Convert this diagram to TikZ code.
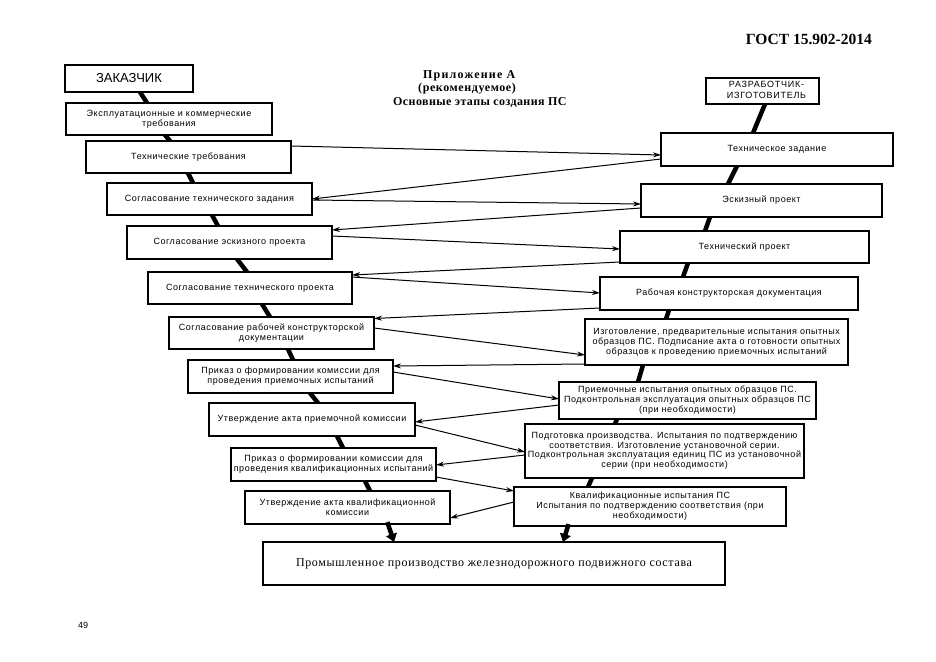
\documentclass[tikz,border=0pt]{standalone}
\usepackage{fontspec}
\setmainfont{Liberation Sans}[LetterSpace=6]
\newfontfamily\plainsans{Liberation Sans}
\newfontfamily\rzfont{Liberation Sans}[LetterSpace=8]
\newfontfamily\serifA{Liberation Serif}[LetterSpace=10]
\newfontfamily\serifB{Liberation Serif}[LetterSpace=5]
\newfontfamily\serifC{Liberation Serif}[LetterSpace=3.5]
\newfontfamily\serifP{Liberation Serif}[LetterSpace=5.5]
\newfontfamily\serifG{Liberation Serif}
\usetikzlibrary{arrows.meta,calc,backgrounds}
\begin{document}
\begin{tikzpicture}[x=1pt,y=-1pt,
  box/.style={draw, line width=1.2pt, fill=white, inner sep=0pt, outer sep=0pt, align=center, font=\fontsize{9}{10}\selectfont},
  chain/.style={line width=4.5pt, shorten <=-2pt, shorten >=-2pt},
  link/.style={line width=1pt, -{Stealth[length=8pt,width=5pt]}},
  bigtip/.style={line width=4.5pt, shorten <=-2pt, -{Triangle[length=8pt,width=11pt]}},
  ttl/.style={inner sep=0pt, anchor=base west}]
\useasboundingbox (0,0) rectangle (936,661);

% header
\node[font=\serifG\bfseries\fontsize{15.5}{17}\selectfont, inner sep=0pt, anchor=base east] (gost) at (872,45) {ГОСТ 15.902-2014};
\node[font=\plainsans\fontsize{9}{10}\selectfont, inner sep=0pt, anchor=base west] (page) at (78,628) {49};
\node[ttl, font=\serifA\bfseries\fontsize{12}{14}\selectfont] (t1) at (423,78) {Приложение А};
\node[ttl, font=\serifB\bfseries\fontsize{12}{14}\selectfont] (t2) at (418,91) {(рекомендуемое)};
\node[ttl, font=\serifC\bfseries\fontsize{12}{14}\selectfont] (t3) at (393,105) {Основные этапы создания ПС};

% left column
\node[box, minimum width=128pt, minimum height=27pt, font=\plainsans\fontsize{13}{14}\selectfont] (L0) at (129,78.5) {ЗАКАЗЧИК};
\node[box, minimum width=206pt, minimum height=32pt] (L1) at (169,119) {Эксплуатационные и коммерческие\\требования};
\node[box, minimum width=205pt, minimum height=32pt] (L2) at (188.5,157) {\raisebox{-1.5pt}{Технические требования}};
\node[box, minimum width=205pt, minimum height=32pt] (L3) at (209.5,199) {\raisebox{2pt}{Согласование технического задания}};
\node[box, minimum width=205pt, minimum height=33pt] (L4) at (229.5,242.5) {\raisebox{3pt}{Согласование эскизного проекта}};
\node[box, minimum width=204pt, minimum height=32pt] (L5) at (250,288) {\raisebox{-2.5pt}{Согласование технического проекта}};
\node[box, minimum width=205pt, minimum height=32pt] (L6) at (271.5,333) {Согласование рабочей конструкторской\\документации};
\node[box, minimum width=205pt, minimum height=33pt] (L7) at (290.5,376.5) {Приказ о формировании комиссии для\\проведения приемочных испытаний};
\node[box, minimum width=206pt, minimum height=33pt] (L8) at (312,419.5) {\raisebox{3pt}{Утверждение акта приемочной комиссии}};
\node[box, minimum width=205pt, minimum height=33pt] (L9) at (333.5,464.5) {Приказ о формировании комиссии для\\проведения квалификационных испытаний};
\node[box, minimum width=205pt, minimum height=33pt] (L10) at (347.5,507.5) {Утверждение акта квалификационной\\комиссии};
\node[box, minimum width=462pt, minimum height=43pt, font=\serifP\fontsize{12}{14}\selectfont] (P) at (494,563.5) {Промышленное производство железнодорожного подвижного состава};

% right column
\node[box, minimum width=113pt, minimum height=26pt, font=\rzfont\fontsize{9}{10.5}\selectfont] (R0) at (762.5,91) {\hspace*{8pt}\raisebox{-2.5pt}{\begin{tabular}{@{}c@{}}РАЗРАБОТЧИК-\\ИЗГОТОВИТЕЛЬ\end{tabular}}};
\node[box, minimum width=232pt, minimum height=33pt] (R1) at (777,149.5) {\raisebox{-1.5pt}{Техническое задание}};
\node[box, minimum width=241pt, minimum height=33pt] (R2) at (761.5,200.5) {Эскизный проект};
\node[box, minimum width=249pt, minimum height=32pt] (R3) at (744.5,247) {\raisebox{-2.5pt}{Технический проект}};
\node[box, minimum width=258pt, minimum height=33pt] (R4) at (729,293.5) {\raisebox{3pt}{Рабочая конструкторская документация}};
\node[box, minimum width=263pt, minimum height=46pt] (R5) at (716.5,342) {Изготовление, предварительные испытания опытных\\образцов ПС. Подписание акта о готовности опытных\\образцов к проведению приемочных испытаний};
\node[box, minimum width=257pt, minimum height=37pt] (R6) at (687.5,400.5) {Приемочные испытания опытных образцов ПС.\\Подконтрольная эксплуатация опытных образцов ПС\\(при необходимости)};
\node[box, minimum width=279pt, minimum height=54pt, font=\fontsize{9}{9.5}\selectfont] (R7) at (664.5,451) {Подготовка производства. Испытания по подтверждению\\соответствия. Изготовление установочной серии.\\Подконтрольная эксплуатация единиц ПС из установочной\\серии (при необходимости)};
\node[box, minimum width=272pt, minimum height=39pt] (R8) at (650,506.5) {\raisebox{-2pt}{\begin{tabular}{@{}c@{}}Квалификационные испытания ПС\\Испытания по подтверждению соответствия (при\\необходимости)\end{tabular}}};

% thick chains
\begin{scope}[on background layer]
\draw[chain] ([xshift=75pt]L0.south west) -- ([xshift=81pt]L1.north west);
\draw[chain] ([xshift=99pt]L1.south west) -- ([xshift=84pt]L2.north west);
\draw[chain] ([xshift=102pt]L2.south west) -- ([xshift=86pt]L3.north west);
\draw[chain] ([xshift=105pt]L3.south west) -- ([xshift=91pt]L4.north west);
\draw[chain] ([xshift=110pt]L4.south west) -- ([xshift=99pt]L5.north west);
\draw[chain] ([xshift=114pt]L5.south west) -- ([xshift=101pt]L6.north west);
\draw[chain] ([xshift=119pt]L6.south west) -- ([xshift=105pt]L7.north west);
\draw[chain] ([xshift=122pt]L7.south west) -- ([xshift=109pt]L8.north west);
\draw[chain] ([xshift=128pt]L8.south west) -- ([xshift=112pt]L9.north west);
\draw[chain] ([xshift=134pt]L9.south west) -- ([xshift=125pt]L10.north west);
\draw[chain] ([xshift=59pt]R0.south west) -- ([xshift=92pt]R1.north west);
\draw[chain] ([xshift=76pt]R1.south west) -- ([xshift=87pt]R2.north west);
\draw[chain] ([xshift=69pt]R2.south west) -- ([xshift=85pt]R3.north west);
\draw[chain] ([xshift=68pt]R3.south west) -- ([xshift=83pt]R4.north west);
\draw[chain] ([xshift=69pt]R4.south west) -- ([xshift=81pt]R5.north west);
\draw[chain] ([xshift=58pt]R5.south west) -- ([xshift=79pt]R6.north west);
\draw[chain] ([xshift=58pt]R6.south west) -- ([xshift=90pt]R7.north west);
\draw[chain] ([xshift=67pt]R7.south west) -- ([xshift=74pt]R8.north west);
\end{scope}
\draw[bigtip] ([xshift=143pt]L10.south west) -- ([xshift=131pt]P.north west);
\draw[bigtip] ([xshift=54pt]R8.south west) -- ([xshift=300pt]P.north west);

% thin links
\draw[link] ([yshift=-5pt]L2.north east) -- ([yshift=-22pt]R1.north west);
\draw[link] ([yshift=-26pt]R1.north west) -- ([yshift=-16pt]L3.north east);
\draw[link] ([yshift=-17pt]L3.north east) -- ([yshift=-20pt]R2.north west);
\draw[link] ([yshift=-24pt]R2.north west) -- ([yshift=-4pt]L4.north east);
\draw[link] ([yshift=-10pt]L4.north east) -- ([yshift=-18pt]R3.north west);
\draw[link] ([yshift=-31pt]R3.north west) -- ([yshift=-3pt]L5.north east);
\draw[link] ([yshift=-5pt]L5.north east) -- ([yshift=-16pt]R4.north west);
\draw[link] ([yshift=-31pt]R4.north west) -- ([yshift=-1.5pt]L6.north east);
\draw[link] ([yshift=-11pt]L6.north east) -- ([yshift=-36pt]R5.north west);
\draw[link] ([yshift=-45pt]R5.north west) -- ([yshift=-6pt]L7.north east);
\draw[link] ([yshift=-12pt]L7.north east) -- ([yshift=-17pt]R6.north west);
\draw[link] ([yshift=-23pt]R6.north west) -- ([yshift=-19pt]L8.north east);
\draw[link] ([yshift=-22pt]L8.north east) -- ([yshift=-28pt]R7.north west);
\draw[link] ([yshift=-31pt]R7.north west) -- ([yshift=-17pt]L9.north east);
\draw[link] ([yshift=-29pt]L9.north east) -- ([yshift=-4pt]R8.north west);
\draw[link] ([yshift=-15pt]R8.north west) -- ([yshift=-27pt]L10.north east);
\end{tikzpicture}
\end{document}
